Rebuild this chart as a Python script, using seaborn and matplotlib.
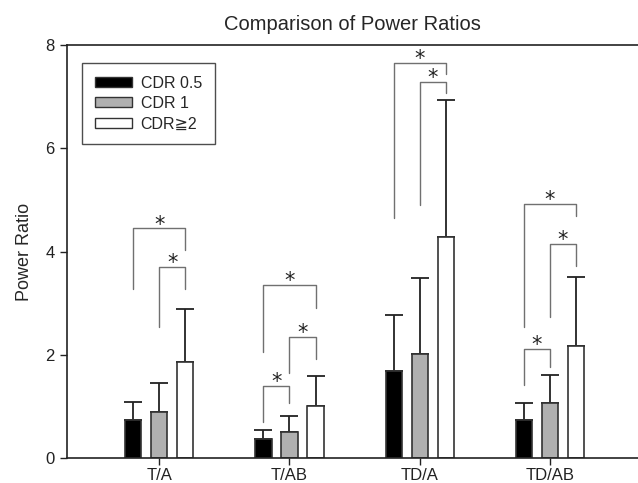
import numpy as np
import pandas as pd
import matplotlib
matplotlib.use("Agg")
import matplotlib.pyplot as plt
import seaborn as sns
from matplotlib.patches import Patch

categories = ["T/A", "T/AB", "TD/A", "TD/AB"]
groups = ["CDR 0.5", "CDR 1", "CDR\u22672"]
means = {
    "CDR 0.5": [0.74, 0.36, 1.69, 0.73],
    "CDR 1": [0.90, 0.51, 2.02, 1.07],
    "CDR\u22672": [1.86, 1.01, 4.28, 2.16],
}
err_top = {
    "CDR 0.5": [1.08, 0.54, 2.77, 1.07],
    "CDR 1": [1.46, 0.81, 3.48, 1.60],
    "CDR\u22672": [2.89, 1.58, 6.94, 3.51],
}
colors = ["#000000", "#b0b0b0", "#ffffff"]

# significance brackets: (category index, group a, group b, top, left bottom, right bottom)
brackets = [
    (0, 0, 2, 4.45, 3.28, 4.02),
    (0, 1, 2, 3.70, 2.53, 3.27),
    (1, 0, 2, 3.35, 2.05, 2.91),
    (1, 1, 2, 2.35, 1.64, 1.91),
    (1, 0, 1, 1.40, 0.70, 1.06),
    (2, 0, 2, 7.66, 4.64, 7.44),
    (2, 1, 2, 7.28, 4.90, 7.07),
    (3, 0, 2, 4.92, 2.53, 4.68),
    (3, 1, 2, 4.15, 2.74, 3.71),
    (3, 0, 1, 2.11, 1.41, 1.77),
]

rows = []
for g in groups:
    for c, v in zip(categories, means[g]):
        rows.append({"cat": c, "group": g, "value": v})
df = pd.DataFrame(rows)

sns.set_style("white")
plt.rcParams["font.family"] = ["Liberation Sans", "DejaVu Sans", "Noto Sans CJK JP"]

fig = plt.figure(figsize=(6.38, 4.83), dpi=100)
ax = fig.add_axes([67 / 638, 25 / 483, 1.0 - 67 / 638, 413 / 483])

sns.barplot(data=df, x="cat", y="value", hue="group", hue_order=groups,
            palette=dict(zip(groups, colors)), errorbar=None, width=0.6,
            gap=0.38, edgecolor="#333333", linewidth=1.2, ax=ax, legend=False,
            zorder=2)

bar_containers = list(ax.containers)
centers = {}
for gi, cont in enumerate(bar_containers):
    g = groups[gi]
    xs = [p.get_x() + p.get_width() / 2 for p in cont.patches]
    centers[gi] = xs
    ys = np.array(means[g])
    up = np.array(err_top[g]) - ys
    ax.errorbar(xs, ys, yerr=[np.zeros_like(up), up], fmt="none",
                ecolor="#222222", elinewidth=1.3, capsize=6.5, capthick=1.3,
                zorder=1)

for ci, a, b, top, lb, rb in brackets:
    xa = centers[a][ci]
    xb = centers[b][ci]
    ax.plot([xa, xa, xb, xb], [lb, top, top, rb], color="#707070", lw=1.0,
            zorder=3)
    ax.annotate("*", xy=((xa + xb) / 2, top), xytext=(0, -4.5),
                textcoords="offset points", ha="center", va="bottom",
                fontsize=15, color="#222222", family=["DejaVu Sans"])

ax.set_xlim(-0.709, 3.677)
ax.set_ylim(0, 8)
ax.set_yticks([0, 2, 4, 6, 8])
ax.set_xlabel("")
ax.set_ylabel("Power Ratio", fontsize=13, labelpad=9)
ax.set_title("Comparison of Power Ratios", fontsize=14.5, pad=11)
ax.tick_params(axis="both", direction="out", length=5, width=1, colors="#222222",
               labelsize=12, bottom=True, left=True)
ax.tick_params(axis="x", pad=2)
ax.tick_params(axis="y", pad=4)
for s in ["left", "top", "bottom"]:
    ax.spines[s].set_color("#222222")
    ax.spines[s].set_linewidth(1.2)
ax.spines["right"].set_visible(False)

handles = [Patch(facecolor=c, edgecolor="#333333", linewidth=1.0) for c in colors]
leg = ax.legend(handles, groups, loc="upper left", bbox_to_anchor=(0.027, 0.957),
                borderaxespad=0, fontsize=11.5, frameon=True, fancybox=False,
                handlelength=2.3, handleheight=0.6, handletextpad=0.55,
                labelspacing=0.34, borderpad=0.8)
leg.get_frame().set_edgecolor("#222222")
leg.get_frame().set_linewidth(1.0)

fig.savefig("out.png", dpi=100)
